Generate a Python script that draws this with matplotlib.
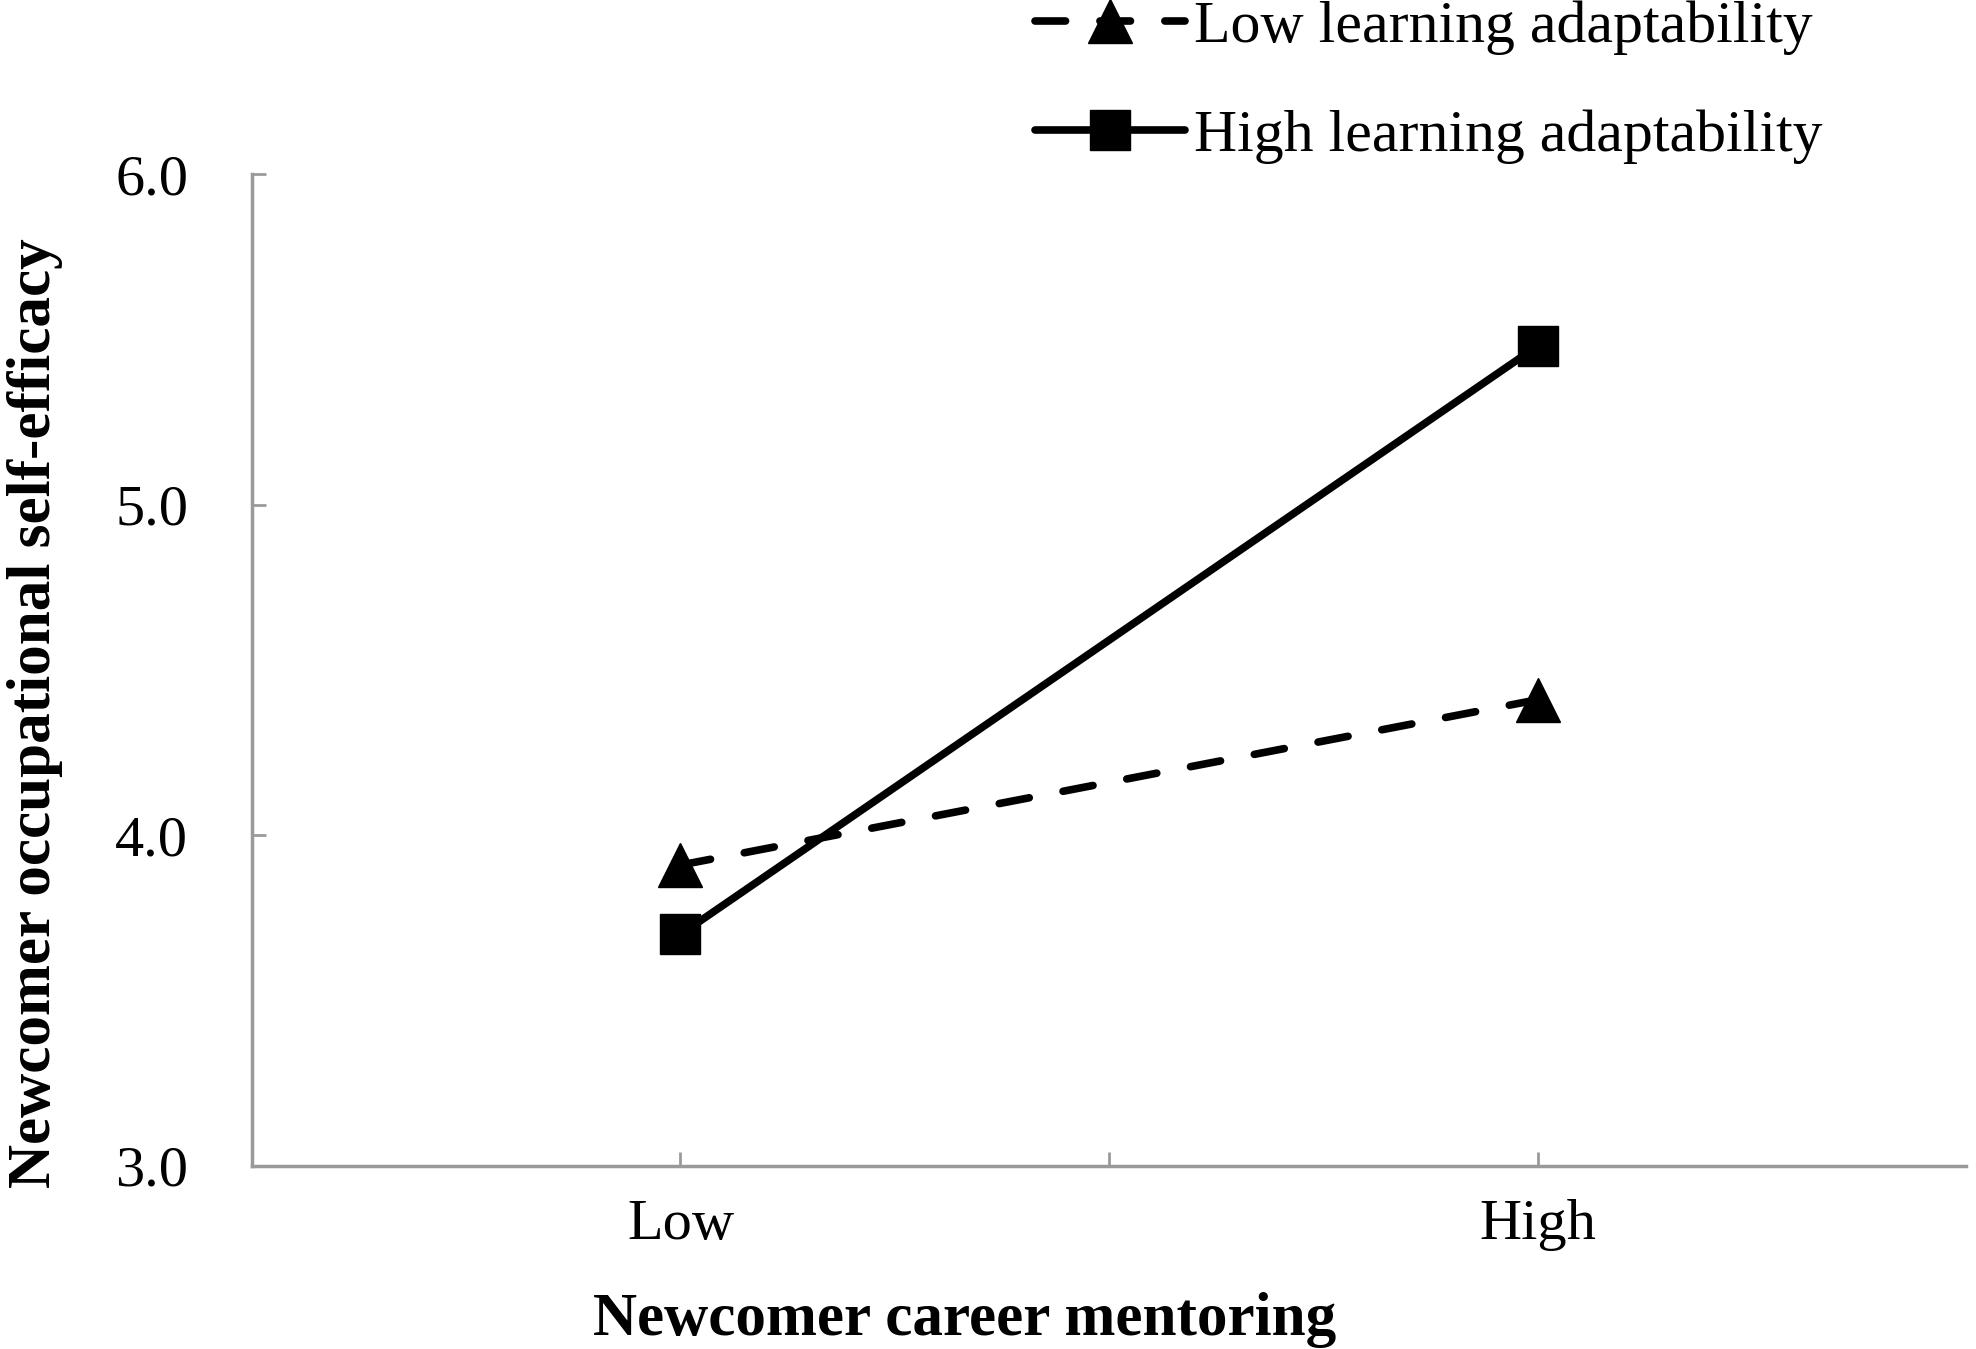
import matplotlib.pyplot as plt

# simple slopes: career mentoring (low / high) x learning adaptability
x_labels = ['Low', '', 'High']
x_pos = [1, 3]
low_adapt = [3.91, 4.41]
high_adapt = [3.70, 5.48]

plt.rcParams['font.family'] = ['Liberation Serif', 'DejaVu Serif']

fig = plt.figure(figsize=(19.76, 13.49), dpi=100)
ax = fig.add_axes([0.1275, 0.1357, 0.8675, 0.7353])

ax.plot(x_pos, low_adapt, color='black', lw=5.5, ls=(0, (4, 4.5)), dash_capstyle='round',
        marker='^', markersize=31, label='Low learning adaptability')
ax.plot(x_pos, high_adapt, color='black', lw=5.5, solid_capstyle='round',
        marker='s', markersize=29, label='High learning adaptability')

ax.set_xlim(0, 4)
ax.set_ylim(3.0, 6.0)
ax.set_xticks([1, 2, 3])
ax.set_xticklabels(x_labels)
ax.set_yticks([3.0, 4.0, 5.0, 6.0])
ax.set_yticklabels(['3.0', '4.0', '5.0', '6.0'])

for s in ['top', 'right']:
    ax.spines[s].set_visible(False)
for s in ['left', 'bottom']:
    ax.spines[s].set_color('#9a9a9a')
    ax.spines[s].set_linewidth(2.5)

ax.tick_params(axis='both', direction='in', color='#9a9a9a', width=2, length=10, labelsize=42)
ax.tick_params(axis='y', pad=46)
ax.tick_params(axis='x', pad=24)

ax.set_xlabel('Newcomer career mentoring', fontsize=44, fontweight='bold')
ax.xaxis.set_label_coords(0.416, -0.127)
ax.set_ylabel('Newcomer occupational self-efficacy', fontsize=44, fontweight='bold')
ax.yaxis.set_label_coords(-0.11, 0.457)

fig.legend(loc='upper left', bbox_to_anchor=(0.521, 1.004), frameon=False, fontsize=43,
           handlelength=2.5, handletextpad=0.15, labelspacing=0.9,
           borderpad=0.1, borderaxespad=0)

fig.savefig('out.png', dpi=100)
